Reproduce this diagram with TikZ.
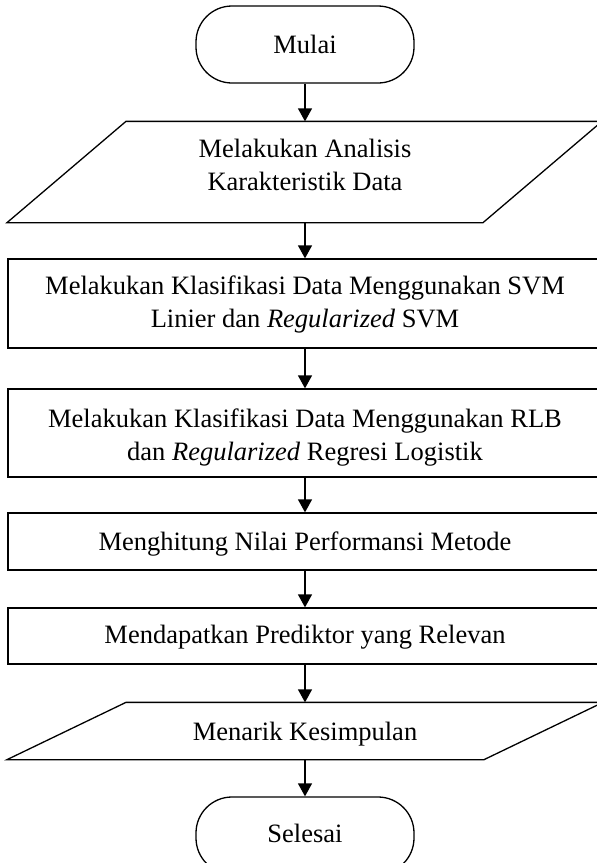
\documentclass[tikz,border=0pt]{standalone}
\usepackage{fontspec}
\setmainfont{Liberation Serif}
\usetikzlibrary{arrows.meta}
\begin{document}
\begin{tikzpicture}[x=1pt,y={(0pt,-1pt)}, line width=1.3pt,
  term/.style={draw, rounded corners=36pt, minimum width=218pt, minimum height=77pt, inner sep=0pt},
  procbox/.style={draw, minimum width=594pt, inner sep=0pt},
  parabox/.style={minimum width=360pt, inner sep=0pt},
  txt/.style={font=\fontsize{26.5}{33}\selectfont, align=center, inner sep=0pt},
  arr/.style={-{Triangle[width=14pt,length=13pt]}}]
\useasboundingbox (0,0) rectangle (597,863);
\clip (0,0) rectangle (597,863);
% shapes
\node[term] (mulai) at (305,44.5) {};
\node[parabox, minimum height=100pt] (p1) at (305,172) {};
\node[procbox, minimum height=89pt] (r1) at (305,303.5) {};
\node[procbox, minimum height=88pt] (r2) at (305,433) {};
\node[procbox, minimum height=57pt] (r3) at (305,541.5) {};
\node[procbox, minimum height=56pt] (r4) at (305,636) {};
\node[parabox, minimum height=56pt] (p2) at (305,731) {};
\node[term] (selesai) at (305,835.5) {};
\draw ([xshift=-298pt]p1.south) -- ([xshift=178pt]p1.south) -- ([xshift=297pt]p1.north) -- ([xshift=-179pt]p1.north) -- cycle;
\draw ([xshift=-298pt]p2.south) -- ([xshift=179pt]p2.south) -- ([xshift=298pt]p2.north) -- ([xshift=-179pt]p2.north) -- cycle;
% texts
\node[txt, anchor=base] (tmulai) at (305,53) {Mulai};
\node[txt] (tp1) at (305,164.7) {Melakukan Analisis\\Karakteristik Data};
\node[txt] (tr1) at (305,304.5) {Melakukan Klasifikasi Data Menggunakan SVM\\Linier dan \textit{Regularized} SVM};
\node[txt] (tr2) at (305,437.5) {Melakukan Klasifikasi Data Menggunakan RLB\\dan \textit{Regularized} Regresi Logistik};
\node[txt, anchor=base] (tr3) at (305,550) {Menghitung Nilai Performansi Metode};
\node[txt, anchor=base] (tr4) at (305,643) {Mendapatkan Prediktor yang Relevan};
\node[txt, anchor=base] (tp2) at (305,740) {Menarik Kesimpulan};
\node[txt, anchor=base] (tsel) at (305,842) {Selesai};
% connectors
\draw[arr] (mulai) -- (p1);
\draw[arr] (p1) -- (r1);
\draw[arr] (r1) -- (r2);
\draw[arr] (r2) -- (r3);
\draw[arr] (r3) -- (r4);
\draw[arr] (r4) -- (p2);
\draw[arr] (p2) -- (selesai);
\end{tikzpicture}
\end{document}
